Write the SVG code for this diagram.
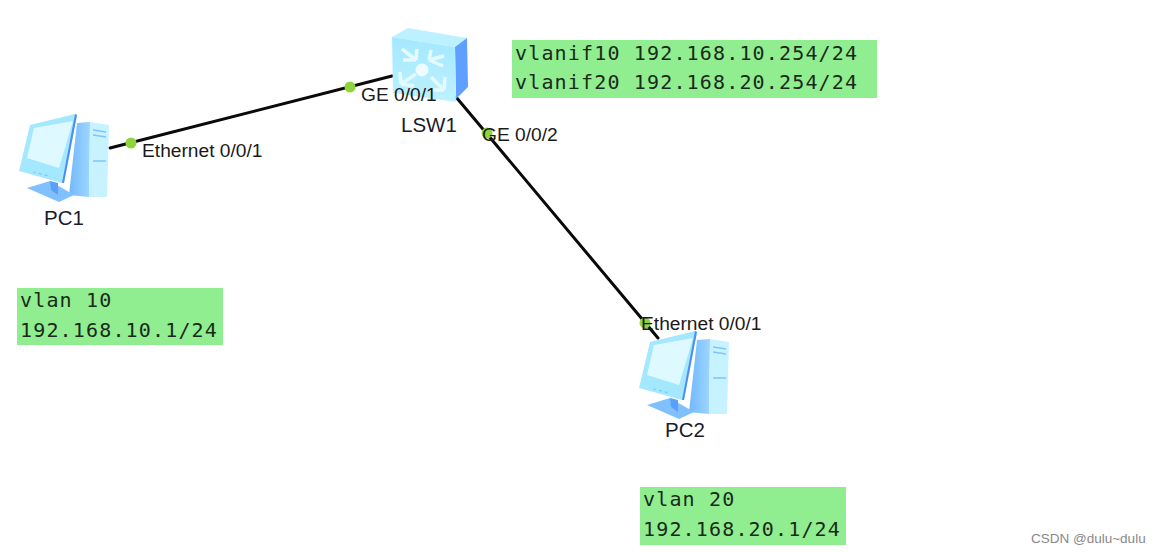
<svg xmlns="http://www.w3.org/2000/svg" width="1166" height="553" viewBox="0 0 1166 553">
<defs>
<linearGradient id="side" x1="0" y1="0" x2="1" y2="0"><stop offset="0" stop-color="#72b8ff"/><stop offset="1" stop-color="#9dd6ff"/></linearGradient>
<linearGradient id="face" x1="0" y1="0" x2="0" y2="1"><stop offset="0" stop-color="#a4e8ff"/><stop offset="1" stop-color="#bdf1ff"/></linearGradient>
<filter id="soft" x="-5%" y="-5%" width="110%" height="110%"><feGaussianBlur stdDeviation="0.6"/></filter>
<g id="pcicon" filter="url(#soft)">
<path d="M58 10 L71 9 L70 84 L50 82 Z" fill="url(#side)"/>
<path d="M71 9 L90 12 L88 84 L70 84 Z" fill="#c6f3ff"/>
<path d="M74 17 L87 19 M74 22 L87 24 M74 48 L87 48" stroke="#7cc6ff" stroke-width="1.4" fill="none"/>
<path d="M8 75 L31 68 L55 82 L40 89 Z" fill="#80c0ff"/>
<path d="M31 68 L39 70 L39 82 L32 77 Z" fill="#5a9ffa"/>
<path d="M11 12 L56 1 L58 2 L45 70 L43 70 L0 58 Z" fill="#a4e8ff"/>
<path d="M56 1 L58 2 L45 70 L43 70 Z" fill="#4f8df2"/>
<path d="M15 15 L54 8 L40 55 L8 45 Z" fill="#def9ff"/>
<path d="M14 59 L30 63" stroke="#7cc6ff" stroke-width="1.2" stroke-dasharray="3 3" fill="none"/>
</g>
</defs>
<style>
.lb{font-family:"Liberation Sans",Arial,sans-serif;font-size:19.2px;fill:#1a1a1a}
.nm{font-family:"Liberation Sans",Arial,sans-serif;font-size:20.5px;fill:#1a1a2a}
.mono{font-family:"DejaVu Sans Mono",monospace;font-size:20px;letter-spacing:1.16px;fill:#1a2a1a}
.box{fill:#90ee90}
.port{fill:#8ed43c}
.wire{stroke:#0a0a0a;stroke-width:3;fill:none;stroke-linecap:round}
.wm{font-family:"Liberation Sans",Arial,sans-serif;font-size:13.5px;fill:#888}
</style>
<rect width="1166" height="553" fill="#fff"/>
<g id="connectors">
<path class="wire" d="M110 148 L392 76"/>
<path class="wire" d="M456 97 L658 338"/>
</g>
<g id="pc1"><use href="#pcicon" x="19" y="113"/><text class="nm" x="44" y="225">PC1</text></g>
<g id="lsw1">
<g filter="url(#soft)">
<path d="M392 37 L408 28 L467 38 L455 47 Z" fill="#bdf1ff"/>
<path d="M455 47 L467 38 L468 87 L456 99 Z" fill="#5f9fff"/>
<path d="M392 37 L455 47 L456 102 L393 93 Z" fill="url(#face)"/>
<g fill="none" stroke="#e4faff" stroke-width="3.5">
<path d="M402 49 L416 60 M416 60 L417 49 M416 60 L403 60"/>
<path d="M444 56 L429 60 M429 60 L431 50 M429 60 L443 66"/>
<path d="M401 84 L416 74 M401 84 L400 72 M401 84 L414 86"/>
<path d="M444 90 L431 77 M444 90 L431 90 M444 90 L445 77"/>
</g>
<circle cx="422" cy="70" r="6.5" fill="#eefcff"/>
</g>
<text class="nm" x="401" y="132">LSW1</text>
</g>
<g id="pc2"><use href="#pcicon" x="639" y="330"/><text class="nm" x="665" y="437">PC2</text></g>
<g id="ports">
<circle class="port" cx="131" cy="143" r="5.5"/>
<circle class="port" cx="350" cy="87" r="5.5"/>
<circle class="port" cx="487" cy="133" r="5.5"/>
<circle class="port" cx="645" cy="323" r="5.5"/>
<text class="lb" x="142" y="157">Ethernet 0/0/1</text>
<text class="lb" x="361" y="101">GE 0/0/1</text>
<text class="lb" x="482" y="141">GE 0/0/2</text>
<text class="lb" x="641" y="330">Ethernet 0/0/1</text>
</g>
<g id="note-switch"><rect class="box" x="512" y="40" width="365" height="58"/><text class="mono" x="515" y="60">vlanif10 192.168.10.254/24</text><text class="mono" x="515" y="89">vlanif20 192.168.20.254/24</text></g>
<g id="note-pc1"><rect class="box" x="17" y="288" width="206" height="57"/><text class="mono" x="20" y="307">vlan 10</text><text class="mono" x="20" y="337">192.168.10.1/24</text></g>
<g id="note-pc2"><rect class="box" x="640" y="487" width="206" height="58"/><text class="mono" x="643" y="506">vlan 20</text><text class="mono" x="643" y="536">192.168.20.1/24</text></g>
<text class="wm" x="1031" y="543">CSDN @dulu~dulu</text>
</svg>
